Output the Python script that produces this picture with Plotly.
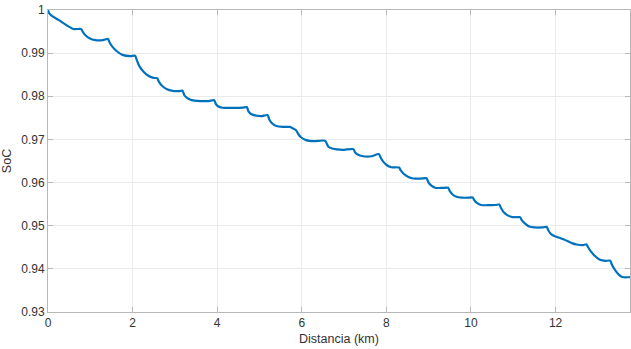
import plotly.graph_objects as go

# Battery state of charge along the route
distancia_km = [
    0.00, 0.03, 0.10, 0.25, 0.45, 0.60, 0.78,
    0.82, 0.88, 0.98, 1.12, 1.30, 1.42,
    1.46, 1.52, 1.62, 1.76, 1.95, 2.06,
    2.10, 2.16, 2.26, 2.38, 2.50, 2.58,
    2.62, 2.69, 2.80, 2.95, 3.10, 3.18,
    3.22, 3.28, 3.40, 3.60, 3.80, 3.93,
    3.97, 4.02, 4.12, 4.35, 4.60, 4.70,
    4.74, 4.80, 4.92, 5.05, 5.19,
    5.23, 5.29, 5.40, 5.55, 5.72,
    5.80, 5.86, 5.92, 5.98, 6.10, 6.30, 6.55,
    6.63, 6.72, 6.83, 7.00, 7.22,
    7.26, 7.32, 7.45, 7.65, 7.82,
    7.87, 7.93, 8.03, 8.12, 8.30,
    8.34, 8.40, 8.52, 8.64, 8.80, 8.95,
    8.99, 9.05, 9.15, 9.30, 9.46,
    9.50, 9.56, 9.66, 9.78, 9.95, 10.04,
    10.08, 10.14, 10.24, 10.40, 10.58, 10.67,
    10.71, 10.77, 10.87, 10.98, 11.10, 11.16,
    11.20, 11.28, 11.38, 11.50, 11.68, 11.79,
    11.83, 11.90, 12.00, 12.20, 12.40, 12.50, 12.65, 12.73,
    12.77, 12.83, 12.95, 13.05, 13.18, 13.29,
    13.33, 13.40, 13.50, 13.58, 13.70, 13.76,
]
soc = [
    1.0000, 0.9992, 0.9986, 0.9977, 0.9964, 0.9956, 0.99558,
    0.9950, 0.9942, 0.99345, 0.9930, 0.99302, 0.9933,
    0.9924, 0.9915, 0.9905, 0.9896, 0.9893, 0.9894,
    0.9884, 0.9870, 0.9857, 0.9847, 0.98425, 0.9842,
    0.9834, 0.9825, 0.9817, 0.98125, 0.9812, 0.9813,
    0.9803, 0.9797, 0.9791, 0.9789, 0.9789, 0.9791,
    0.9782, 0.9777, 0.97735, 0.9773, 0.97735, 0.9775,
    0.9765, 0.9759, 0.9755, 0.9754, 0.97565,
    0.9747, 0.9738, 0.9731, 0.9729, 0.9729,
    0.9725, 0.9722, 0.9712, 0.9705, 0.96985, 0.9696, 0.9697,
    0.9683, 0.9679, 0.96768, 0.9676, 0.96775,
    0.9670, 0.9665, 0.9661, 0.9661, 0.9666,
    0.9657, 0.9648, 0.9639, 0.96355, 0.9635,
    0.9628, 0.9621, 0.9613, 0.96095, 0.9609, 0.9610,
    0.9601, 0.9594, 0.9588, 0.95875, 0.9588,
    0.9580, 0.9573, 0.9567, 0.9565, 0.9565, 0.95655,
    0.9559, 0.9553, 0.9548, 0.95475, 0.9548, 0.9549,
    0.9541, 0.9532, 0.9524, 0.9520, 0.95198, 0.9520,
    0.9513, 0.9505, 0.9498, 0.9496, 0.9496, 0.9497,
    0.9489, 0.9480, 0.9475, 0.9468, 0.9459, 0.94564, 0.9455, 0.94565,
    0.9450, 0.9441, 0.9428, 0.9421, 0.94185, 0.9419,
    0.9410, 0.9398, 0.9386, 0.9381, 0.93805, 0.9381,
]

x_ticks = [0, 2, 4, 6, 8, 10, 12]
y_ticks = [0.93, 0.94, 0.95, 0.96, 0.97, 0.98, 0.99, 1.0]
y_tick_text = ["0.93", "0.94", "0.95", "0.96", "0.97", "0.98", "0.99", "1"]

fig = go.Figure()
fig.add_trace(go.Scatter(
    x=distancia_km, y=soc, mode="lines",
    line=dict(color="#0072BD", width=2.2, shape="spline", smoothing=0.6),
    showlegend=False, hoverinfo="skip",
))

axis_common = dict(
    showgrid=True, gridcolor="#ebebeb", gridwidth=1,
    showline=True, linecolor="#b8b8b8", linewidth=1, mirror="ticks",
    ticks="inside", ticklen=5, tickcolor="#b8b8b8", tickwidth=1,
    zeroline=False,
    tickfont=dict(family="Liberation Sans, Arial, sans-serif", size=12, color="#333333"),
    title_font=dict(family="Liberation Sans, Arial, sans-serif", size=12.5, color="#333333"),
)

fig.update_xaxes(range=[0, 13.76], tickvals=x_ticks, title_text="Distancia (km)",
                 title_standoff=4, **axis_common)
fig.update_yaxes(range=[0.93, 1.0], tickvals=y_ticks, ticktext=y_tick_text,
                 title_text="SoC", title_standoff=6, **axis_common)

fig.update_layout(
    width=631, height=349,
    margin=dict(l=48, r=1, t=10, b=37),
    paper_bgcolor="white", plot_bgcolor="white",
)

fig.write_html("out.html")
